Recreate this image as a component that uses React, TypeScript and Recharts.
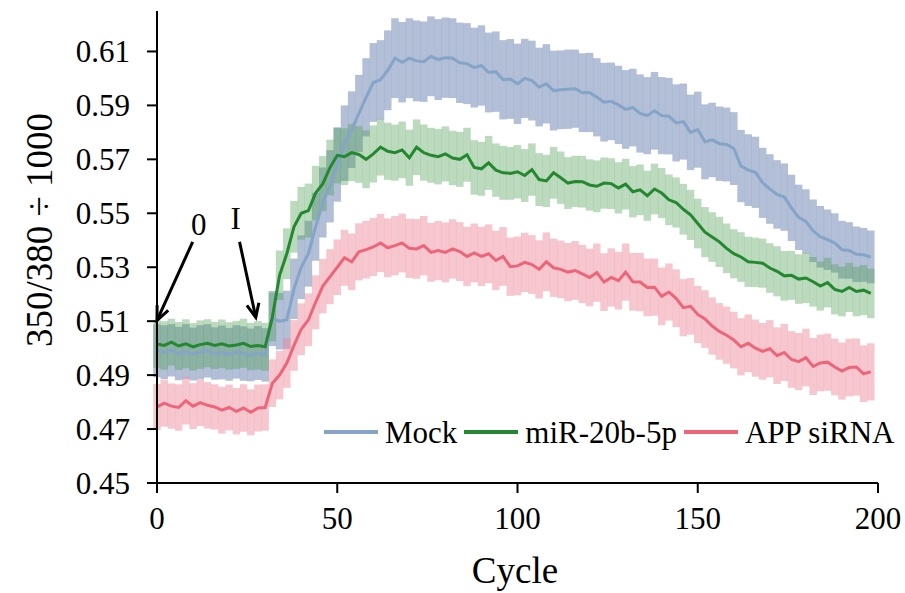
import { LineChart, Line, XAxis, YAxis, ErrorBar, Legend, ReferenceLine } from "recharts";

const FONT = "'Liberation Serif', 'Times New Roman', serif";

// cycle number of every reading
const cycles = [
  0, 2, 4, 6, 8, 10, 12, 14, 16, 18, 20, 22, 24, 26, 28, 30, 32, 34, 36, 38,
  40, 42, 44, 46, 48, 50, 52, 54, 56, 58, 60, 62, 64, 66, 68, 70, 72, 74, 76, 78,
  80, 82, 84, 86, 88, 90, 92, 94, 96, 98, 100, 102, 104, 106, 108, 110, 112, 114, 116, 118,
  120, 122, 124, 126, 128, 130, 132, 134, 136, 138, 140, 142, 144, 146, 148, 150, 152, 154, 156, 158,
  160, 162, 164, 166, 168, 170, 172, 174, 176, 178, 180, 182, 184, 186, 188, 190, 192, 194, 196, 198,
];

const mock = [
  0.4990, 0.4985, 0.4992, 0.4980, 0.4988, 0.4978, 0.4985, 0.4990, 0.4980, 0.4984, 0.4977, 0.4986, 0.4980, 0.4975, 0.4982, 0.4975,
  0.5110, 0.5100, 0.5105, 0.5220, 0.5300, 0.5350, 0.5450, 0.5540, 0.5600, 0.5680,
  0.5760, 0.5810, 0.5870, 0.5930, 0.5985, 0.5995, 0.6030, 0.6075, 0.6060, 0.6075, 0.6065, 0.6062, 0.6082, 0.6070, 0.6077, 0.6075, 0.6058, 0.6055, 0.6040, 0.6048,
  0.6022, 0.6025, 0.5995, 0.5998, 0.5980, 0.6000, 0.5992, 0.5968, 0.5980, 0.5955, 0.5958, 0.5960, 0.5962, 0.5947, 0.5948, 0.5930, 0.5912, 0.5915, 0.5902, 0.5885, 0.5892, 0.5870, 0.5862, 0.5880, 0.5862,
  0.5860, 0.5835, 0.5840, 0.5800, 0.5810, 0.5765, 0.5772, 0.5758, 0.5755, 0.5740, 0.5675, 0.5660, 0.5652, 0.5613, 0.5590,
  0.5570, 0.5560, 0.5520, 0.5485, 0.5470, 0.5435, 0.5413, 0.5402, 0.5390, 0.5365, 0.5362, 0.5348, 0.5346, 0.5338,
];

const mir = [
  0.5015, 0.5010, 0.5022, 0.5008, 0.5016, 0.5005, 0.5013, 0.5018, 0.5010, 0.5016, 0.5008, 0.5012, 0.5018, 0.5006, 0.5010, 0.5005,
  0.5115, 0.5270, 0.5350, 0.5450, 0.5500, 0.5510, 0.5575, 0.5610, 0.5670, 0.5715,
  0.5710, 0.5725, 0.5718, 0.5700, 0.5720, 0.5745, 0.5730, 0.5725, 0.5735, 0.5706, 0.5745, 0.5725, 0.5715, 0.5710, 0.5720, 0.5705, 0.5700, 0.5717, 0.5670, 0.5665,
  0.5687, 0.5660, 0.5650, 0.5648, 0.5654, 0.5640, 0.5662, 0.5625, 0.5620, 0.5650, 0.5632, 0.5612, 0.5618, 0.5617, 0.5605, 0.5600, 0.5612, 0.5610, 0.5594, 0.5608, 0.5580, 0.5587, 0.5565, 0.5590, 0.5575,
  0.5550, 0.5540, 0.5515, 0.5494, 0.5462, 0.5430, 0.5412, 0.5394, 0.5370, 0.5350, 0.5338, 0.5320, 0.5318, 0.5315, 0.5297,
  0.5285, 0.5268, 0.5270, 0.5256, 0.5260, 0.5246, 0.5230, 0.5243, 0.5218, 0.5210, 0.5225, 0.5210, 0.5215, 0.5203,
];

const sirna = [
  0.4782, 0.4796, 0.4785, 0.4780, 0.4805, 0.4785, 0.4798, 0.4788, 0.4782, 0.4770, 0.4780, 0.4766, 0.4778, 0.4762, 0.4778, 0.4780,
  0.4870, 0.4900, 0.4945, 0.5010, 0.5070, 0.5105, 0.5170, 0.5230, 0.5265, 0.5300,
  0.5335, 0.5320, 0.5357, 0.5365, 0.5375, 0.5390, 0.5372, 0.5380, 0.5390, 0.5370, 0.5368, 0.5380, 0.5355, 0.5362, 0.5355, 0.5368, 0.5358, 0.5340, 0.5353, 0.5340,
  0.5350, 0.5325, 0.5340, 0.5302, 0.5305, 0.5318, 0.5310, 0.5292, 0.5320, 0.5298, 0.5292, 0.5282, 0.5288, 0.5275, 0.5262, 0.5280, 0.5245, 0.5262, 0.5250, 0.5282, 0.5246, 0.5245, 0.5225, 0.5226, 0.5192,
  0.5208, 0.5185, 0.5150, 0.5155, 0.5125, 0.5108, 0.5082, 0.5062, 0.5048, 0.5030, 0.5005, 0.5018, 0.5000, 0.4988, 0.4998,
  0.4972, 0.4984, 0.4958, 0.4950, 0.4965, 0.4932, 0.4945, 0.4948, 0.4930, 0.4915, 0.4928, 0.4930, 0.4905, 0.4912,
];

// half-height of the error bar at each reading
const mockErr = [
  0.0098, 0.0100, 0.0097, 0.0099, 0.0101, 0.0098, 0.0100, 0.0099, 0.0097, 0.0100, 0.0098, 0.0099, 0.0101, 0.0098, 0.0100, 0.0099,
  0.0102, 0.0105, 0.0108, 0.0112, 0.0118, 0.0122, 0.0126, 0.0130, 0.0134, 0.0137,
  0.0140, 0.0142, 0.0143, 0.0145, 0.0146, 0.0147, 0.0148, 0.0148, 0.0149, 0.0148, 0.0150, 0.0149, 0.0148, 0.0150, 0.0149, 0.0148, 0.0149, 0.0150, 0.0148, 0.0149,
  0.0148, 0.0149, 0.0147, 0.0148, 0.0149, 0.0147, 0.0148, 0.0146, 0.0147, 0.0148, 0.0146, 0.0147, 0.0145, 0.0146, 0.0147, 0.0145, 0.0146, 0.0144, 0.0145, 0.0146, 0.0144, 0.0145, 0.0143, 0.0144, 0.0143,
  0.0142, 0.0143, 0.0141, 0.0140, 0.0141, 0.0139, 0.0138, 0.0138, 0.0137, 0.0135, 0.0134, 0.0133, 0.0132, 0.0130, 0.0129,
  0.0127, 0.0125, 0.0123, 0.0121, 0.0119, 0.0116, 0.0114, 0.0112, 0.0110, 0.0107, 0.0105, 0.0103, 0.0100, 0.0098,
];

const mirErr = [
  0.0088, 0.0090, 0.0087, 0.0089, 0.0091, 0.0088, 0.0090, 0.0089, 0.0087, 0.0090, 0.0088, 0.0089, 0.0091, 0.0088, 0.0090, 0.0089,
  0.0090, 0.0092, 0.0094, 0.0096, 0.0098, 0.0100, 0.0101, 0.0102, 0.0103, 0.0104,
  0.0105, 0.0106, 0.0105, 0.0107, 0.0106, 0.0105, 0.0106, 0.0104, 0.0105, 0.0104, 0.0103, 0.0104, 0.0102, 0.0103, 0.0102, 0.0101, 0.0102, 0.0100, 0.0101, 0.0100,
  0.0100, 0.0099, 0.0100, 0.0098, 0.0099, 0.0098, 0.0097, 0.0098, 0.0097, 0.0096, 0.0097, 0.0096, 0.0095, 0.0096, 0.0095, 0.0096, 0.0095, 0.0094, 0.0095, 0.0094, 0.0095, 0.0094, 0.0093, 0.0094, 0.0093,
  0.0094, 0.0093, 0.0094, 0.0093, 0.0092, 0.0093, 0.0092, 0.0093, 0.0092, 0.0091, 0.0092, 0.0093, 0.0092, 0.0091, 0.0092,
  0.0093, 0.0092, 0.0091, 0.0092, 0.0093, 0.0092, 0.0091, 0.0092, 0.0093, 0.0092, 0.0091, 0.0092, 0.0093, 0.0092,
];

const sirnaErr = [
  0.0085, 0.0087, 0.0084, 0.0086, 0.0088, 0.0085, 0.0087, 0.0086, 0.0084, 0.0087, 0.0085, 0.0086, 0.0088, 0.0085, 0.0087, 0.0086,
  0.0088, 0.0090, 0.0092, 0.0094, 0.0096, 0.0098, 0.0100, 0.0101, 0.0102, 0.0103,
  0.0104, 0.0105, 0.0106, 0.0107, 0.0108, 0.0108, 0.0109, 0.0110, 0.0109, 0.0110, 0.0111, 0.0110, 0.0109, 0.0110, 0.0111, 0.0110, 0.0109, 0.0110, 0.0109, 0.0110,
  0.0109, 0.0110, 0.0109, 0.0108, 0.0109, 0.0110, 0.0109, 0.0108, 0.0109, 0.0108, 0.0107, 0.0108, 0.0109, 0.0108, 0.0107, 0.0108, 0.0107, 0.0108, 0.0107, 0.0106, 0.0107, 0.0108, 0.0107, 0.0106, 0.0107,
  0.0106, 0.0107, 0.0106, 0.0105, 0.0106, 0.0107, 0.0106, 0.0105, 0.0106, 0.0105, 0.0106, 0.0107, 0.0106, 0.0105, 0.0106,
  0.0105, 0.0106, 0.0105, 0.0106, 0.0107, 0.0106, 0.0105, 0.0106, 0.0105, 0.0106, 0.0107, 0.0106, 0.0105, 0.0106,
];

const xTicks = [0, 50, 100, 150, 200];
const yTicks = [0.45, 0.47, 0.49, 0.51, 0.53, 0.55, 0.57, 0.59, 0.61];

const series = [
  { key: "mock", name: "Mock", line: "#84A4C8", band: "rgba(122,145,186,0.58)" },
  { key: "mir", name: "miR-20b-5p", line: "#23882F", band: "rgba(78,158,82,0.38)" },
  { key: "sirna", name: "APP siRNA", line: "#EE6579", band: "rgba(236,128,146,0.44)" },
];

// annotation arrows, start and tip in chart units
const arrows = [
  { text: "0", from: { x: 9.9, y: 0.5394 }, to: { x: 0, y: 0.5103 }, dx: 6, dy: -7 },
  { text: "I", from: { x: 22.9, y: 0.5394 }, to: { x: 27.4, y: 0.5114 }, dx: -4, dy: -13 },
];

const data = cycles.map((c, i) => ({
  cycle: c,
  mock: mock[i],
  mockErr: mockErr[i],
  mir: mir[i],
  mirErr: mirErr[i],
  sirna: sirna[i],
  sirnaErr: sirnaErr[i],
}));

const arrowShape = (text: string, dx: number, dy: number) => (props: any) => {
  const { x1, y1, x2, y2 } = props;
  const ang = Math.atan2(y2 - y1, x2 - x1);
  const len = 15;
  const a1 = ang + Math.PI - 0.42;
  const a2 = ang + Math.PI + 0.42;
  const pts = `${x2 + len * Math.cos(a1)},${y2 + len * Math.sin(a1)} ${x2},${y2} ${x2 + len * Math.cos(a2)},${y2 + len * Math.sin(a2)}`;
  return (
    <g>
      <line x1={x1} y1={y1} x2={x2} y2={y2} stroke="#000" strokeWidth={3} />
      <polyline points={pts} fill="none" stroke="#000" strokeWidth={3} />
      <text x={x1 + dx} y={y1 + dy} textAnchor="middle" fontSize={31} fontFamily={FONT} fill="#000">
        {text}
      </text>
    </g>
  );
};

const XTick = (props: any) => {
  const { x, y, payload } = props;
  return (
    <text x={x} y={y} dy={22} textAnchor="middle" fontSize={31} fontFamily={FONT} fill="#000">
      {payload.value}
    </text>
  );
};

const YTick = (props: any) => {
  const { x, y, payload } = props;
  return (
    <text x={x} y={y} dy={11} textAnchor="end" fontSize={31} fontFamily={FONT} fill="#000">
      {payload.value.toFixed(2)}
    </text>
  );
};

const YTitle = () => (
  <text transform="translate(52,230) rotate(-90)" textAnchor="middle" fontSize={37} fontFamily={FONT} fill="#000">
    350/380 ÷ 1000
  </text>
);

const XTitle = () => (
  <text x={515} y={583} textAnchor="middle" fontSize={37} fontFamily={FONT} fill="#000">
    Cycle
  </text>
);

const renderLegend = () => (
  <div style={{ display: "flex", alignItems: "center", height: 40, fontFamily: FONT, fontSize: 31, color: "#000" }}>
    {series.map((s) => (
      <div key={s.key} style={{ display: "flex", alignItems: "center", marginRight: 7 }}>
        <svg width={54} height={8}>
          <line x1={0} y1={4} x2={54} y2={4} stroke={s.line} strokeWidth={4} />
        </svg>
        <span style={{ marginLeft: 7, lineHeight: 1 }}>{s.name}</span>
      </div>
    ))}
  </div>
);

export default function App() {
  const axisStyle = { stroke: "#000", strokeWidth: 2 };
  return (
    <div style={{ position: "absolute", left: 0, top: 0, width: 905, height: 593, background: "#fff", fontFamily: FONT }}>
      <LineChart width={905} height={593} data={data} margin={{ top: 11, right: 27, bottom: 0, left: 0 }}>
        <XAxis
          dataKey="cycle"
          type="number"
          domain={[0, 200]}
          ticks={xTicks}
          allowDataOverflow
          height={110}
          tickSize={10}
          tickMargin={14}
          axisLine={axisStyle}
          tickLine={axisStyle}
          tick={<XTick />}
          label={<XTitle />}
        />
        <YAxis
          type="number"
          domain={[0.45, 0.625]}
          ticks={yTicks}
          allowDataOverflow
          width={157}
          tickSize={10}
          tickMargin={17}
          axisLine={axisStyle}
          tickLine={axisStyle}
          tick={<YTick />}
          label={<YTitle />}
        />
        {series.map((s) => (
          <Line
            key={s.key + "-band"}
            dataKey={s.key}
            stroke="none"
            dot={false}
            activeDot={false}
            legendType="none"
            isAnimationActive={false}
          >
            <ErrorBar dataKey={s.key + "Err"} width={0} stroke={s.band} strokeWidth={7.5} direction="y" isAnimationActive={false} />
          </Line>
        ))}
        {series.map((s) => (
          <Line
            key={s.key}
            type="linear"
            dataKey={s.key}
            name={s.name}
            stroke={s.line}
            strokeWidth={3}
            dot={false}
            activeDot={false}
            isAnimationActive={false}
          />
        ))}
        {arrows.map((a) => (
          <ReferenceLine
            key={a.text}
            segment={[a.from, a.to]}
            ifOverflow="visible"
            shape={arrowShape(a.text, a.dx, a.dy)}
          />
        ))}
        <Legend
          layout="horizontal"
          verticalAlign="middle"
          align="center"
          content={renderLegend}
          wrapperStyle={{ left: 324, top: 412, width: 590, height: 40 }}
        />
      </LineChart>
    </div>
  );
}
